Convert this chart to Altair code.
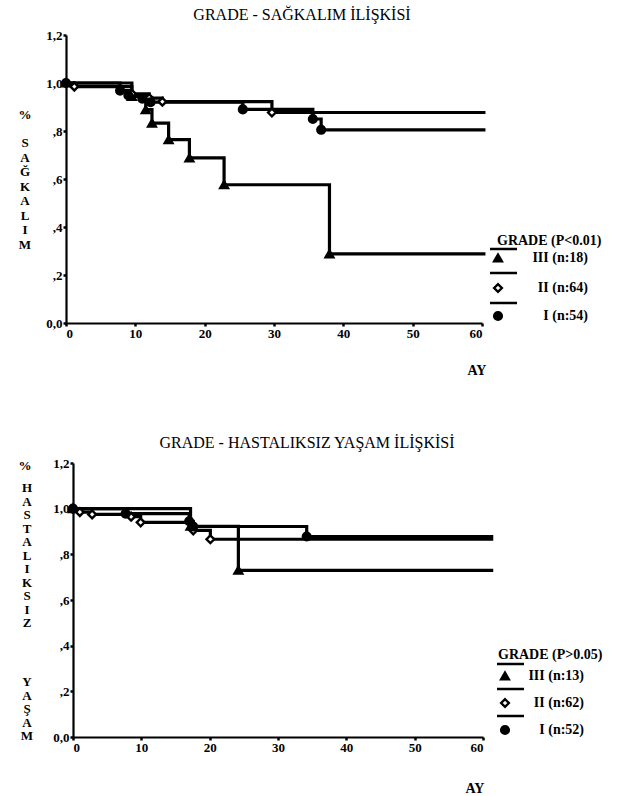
import altair as alt
import pandas as pd

# ---------------- data ----------------
groups = ["III", "II", "I"]

# Panel 1: GRADE - SAĞKALIM (survival)
s_g3_t = [0, 9.5, 11.5, 12.4, 14.8, 17.8, 22.8, 38.0, 60.5]
s_g3_s = [1.0, 0.944, 0.889, 0.833, 0.764, 0.688, 0.576, 0.288, 0.288]
s_g2_t = [0, 1.2, 9.5, 12.0, 13.9, 29.7, 60.5]
s_g2_s = [1.0, 0.985, 0.955, 0.937, 0.922, 0.877, 0.877]
s_g1_t = [0, 7.8, 9.0, 11.0, 12.2, 25.5, 35.6, 36.8, 60.5]
s_g1_s = [1.0, 0.968, 0.948, 0.935, 0.92, 0.89, 0.85, 0.805, 0.805]

# Panel 2: GRADE - HASTALIKSIZ YAŞAM (disease-free)
h_g3_t = [0, 17.2, 24.2, 61.5]
h_g3_s = [1.0, 0.923, 0.73, 0.73]
h_g2_t = [0, 1.0, 2.8, 8.5, 9.9, 17.6, 20.1, 61.5]
h_g2_s = [1.0, 0.985, 0.975, 0.965, 0.94, 0.905, 0.866, 0.866]
h_g1_t = [0, 7.7, 17.0, 17.6, 34.2, 61.5]
h_g1_s = [1.0, 0.978, 0.945, 0.922, 0.878, 0.878]

x_ticks = [0, 10, 20, 30, 40, 50, 60]
y_ticks = [0, 0.2, 0.4, 0.6, 0.8, 1.0, 1.2]
y_tick_labels = ["0,0", ",2", ",4", ",6", ",8", "1,0", "1,2"]

title1 = "GRADE - SAĞKALIM İLİŞKİSİ"
title2 = "GRADE - HASTALIKSIZ YAŞAM İLİŞKİSİ"
ylab1 = list("SAĞKALIM")
ylab2a = list("HASTALIKSIZ")
ylab2b = list("YAŞAM")
legend1_title = "GRADE (P<0.01)"
legend1_labels = ["III (n:18)", "II (n:64)", "I (n:54)"]
legend2_title = "GRADE (P>0.05)"
legend2_labels = ["III (n:13)", "II (n:62)", "I (n:52)"]
xlab = "AY"

# ---------------- helpers ----------------
W, H = 626, 796
SERIF = "Liberation Serif"
SHAPES = ["triangle-up", "diamond", "circle"]
FILLS = ["black", "white", "black"]


def km_frame(ts, ss, g):
    return pd.DataFrame({"t": ts, "s": ss, "g": g})


def panel(sets, xr, yr):
    lines = pd.concat([km_frame(t, s, g) for (t, s, g) in sets], ignore_index=True)
    pts = pd.concat([km_frame(t[:-1], s[:-1], g) for (t, s, g) in sets], ignore_index=True)
    xs = alt.Scale(domain=[0, 60], range=xr, nice=False, zero=False)
    ys = alt.Scale(domain=[0, 1.2], range=yr, nice=False, zero=False)
    label_expr = "[" + ",".join("'%s'" % l for l in y_tick_labels) + "][round(datum.value*5)]"
    xaxis = alt.Axis(values=x_ticks, orient="bottom", offset=-(H - yr[0]), title=None,
                     grid=False, domainColor="black", domainWidth=2.2, tickColor="black",
                     tickSize=3, tickWidth=2.5, labelFont=SERIF, labelFontSize=13,
                     labelFontWeight="bold", labelColor="black", labelPadding=1)
    yaxis = alt.Axis(values=y_ticks, orient="left", offset=-xr[0], title=None,
                     grid=False, domainColor="black", domainWidth=2.2, tickColor="black",
                     tickSize=3, tickWidth=2.5, labelFont=SERIF, labelFontSize=13,
                     labelFontWeight="bold", labelColor="black", labelPadding=1,
                     labelExpr=label_expr)
    line = alt.Chart(lines).mark_line(interpolate="step-after", color="black",
                                      strokeWidth=3.2).encode(
        x=alt.X("t:Q", scale=xs, axis=xaxis),
        y=alt.Y("s:Q", scale=ys, axis=yaxis),
        detail="g:N",
    )
    point = alt.Chart(pts).mark_point(size=60, strokeWidth=2.4, opacity=1).encode(
        x=alt.X("t:Q", scale=xs, axis=None),
        y=alt.Y("s:Q", scale=ys, axis=None),
        shape=alt.Shape("g:N", scale=alt.Scale(domain=groups, range=SHAPES), legend=None),
        fill=alt.Fill("g:N", scale=alt.Scale(domain=groups, range=FILLS), legend=None),
        color=alt.value("black"),
    )
    return [line, point]


def text_at(txt, x, y, size=13, weight="bold", align="center", baseline="middle", lh=None):
    kw = dict(font=SERIF, fontSize=size, fontWeight=weight, align=align,
              baseline=baseline, color="black", text=txt)
    if lh is not None:
        kw["lineHeight"] = lh
    return alt.Chart(pd.DataFrame({"a": [0]})).mark_text(**kw).encode(
        x=alt.value(x), y=alt.value(y))


def legend(title, labels, x_line, x_title, y_title, y_items, y_lines, x_right):
    layers = [text_at(title, x_title, y_title, size=14, align="left")]
    rows = pd.DataFrame({"g": groups, "lab": labels, "py": y_items, "ly": y_lines})
    layers.append(alt.Chart(rows).mark_rule(color="black", strokeWidth=2.5).encode(
        x=alt.value(x_line), x2=alt.value(x_line + 27), y=alt.Y("ly:Q", scale=None)))
    layers.append(alt.Chart(rows).mark_point(size=60, strokeWidth=2.4, opacity=1).encode(
        x=alt.value(x_line + 8), y=alt.Y("py:Q", scale=None),
        shape=alt.Shape("g:N", scale=alt.Scale(domain=groups, range=SHAPES), legend=None),
        fill=alt.Fill("g:N", scale=alt.Scale(domain=groups, range=FILLS), legend=None),
        color=alt.value("black")))
    layers.append(alt.Chart(rows).mark_text(font=SERIF, fontSize=14, fontWeight="bold",
                                            align="right", color="black").encode(
        x=alt.value(x_right), y=alt.Y("py:Q", scale=None), text="lab:N"))
    return layers


p1 = panel([(s_g3_t, s_g3_s, "III"), (s_g2_t, s_g2_s, "II"), (s_g1_t, s_g1_s, "I")],
           [66, 482], [323, 35])
p2 = panel([(h_g3_t, h_g3_s, "III"), (h_g2_t, h_g2_s, "II"), (h_g1_t, h_g1_s, "I")],
           [73, 483], [737, 463])

annot = [
    text_at(title1, 302, 15, size=16, weight="normal"),
    text_at(title2, 307, 443, size=16, weight="normal"),
    text_at("%", 25, 115, size=13),
    text_at(ylab1, 25, 137, size=13, baseline="top", lh=14.5),
    text_at("%", 25, 466, size=13),
    text_at(ylab2a, 27, 482, size=13, baseline="top", lh=13.5),
    text_at(ylab2b, 27, 676, size=13, baseline="top", lh=13.5),
    text_at(xlab, 477, 371, size=14),
    text_at(xlab, 475, 789, size=14),
]
annot += legend(legend1_title, legend1_labels, 490, 497, 241, [258, 288, 316],
                [249, 273, 303], 588)
annot += legend(legend2_title, legend2_labels, 497, 498, 655, [676, 703, 730],
                [664, 689, 716], 584)

chart = alt.layer(*p1, *p2, *annot).resolve_scale(
    x="independent", y="independent", shape="independent", fill="independent"
).properties(
    width=W, height=H, padding=0,
    autosize=alt.AutoSizeParams(type="none"),
    background="white",
).configure_view(stroke=None)

chart.save("out.html", embed_options={"renderer": "svg", "actions": False})
